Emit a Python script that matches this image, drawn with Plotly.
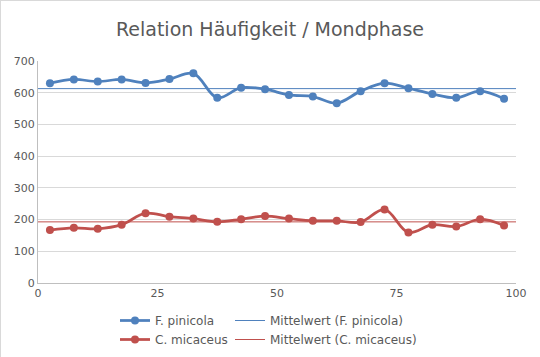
import plotly.graph_objects as go

x_vals = [2.5, 7.5, 12.5, 17.5, 22.5, 27.5, 32.5, 37.5, 42.5, 47.5,
          52.5, 57.5, 62.5, 67.5, 72.5, 77.5, 82.5, 87.5, 92.5, 97.5]
pinicola = [630, 642, 635, 642, 631, 643, 661, 584, 616, 611,
            593, 588, 567, 605, 630, 614, 596, 584, 605, 581]
micaceus = [167, 174, 171, 184, 220, 209, 203, 193, 201, 211,
            203, 196, 196, 192, 232, 159, 184, 178, 201, 181]
mean_range = [0, 100]
mean_pinicola = sum(pinicola) / len(pinicola)
mean_micaceus = sum(micaceus) / len(micaceus)

blue = "#4F81BD"
red = "#C0504D"
grey_text = "#595959"
grid = "#D9D9D9"

W, H = 540, 357
ml, mr, mt, mb = 38, 24, 61, 74
pw, ph = W - ml - mr, H - mt - mb

fig = go.Figure()
fig.add_trace(go.Scatter(x=x_vals, y=pinicola, mode="lines+markers", name="F. pinicola",
                         line=dict(color=blue, width=2.75, shape="spline", smoothing=1),
                         marker=dict(color=blue, size=8), legend="legend"))
fig.add_trace(go.Scatter(x=x_vals, y=micaceus, mode="lines+markers", name="C. micaceus",
                         line=dict(color=red, width=2.75, shape="spline", smoothing=1),
                         marker=dict(color=red, size=8), legend="legend"))
fig.add_trace(go.Scatter(x=mean_range, y=[mean_pinicola] * 2, mode="lines",
                         name="Mittelwert (F. pinicola)",
                         line=dict(color=blue, width=1), legend="legend2"))
fig.add_trace(go.Scatter(x=mean_range, y=[mean_micaceus] * 2, mode="lines",
                         name="Mittelwert (C. micaceus)",
                         line=dict(color=red, width=1), legend="legend2"))

legend_common = dict(orientation="v", bgcolor="rgba(0,0,0,0)",
                     font=dict(family="DejaVu Sans", size=12, color=grey_text),
                     yanchor="top", xanchor="left", tracegroupgap=0, itemwidth=30)

fig.update_layout(
    width=W, height=H,
    margin=dict(l=ml, r=mr, t=mt, b=mb, autoexpand=False),
    paper_bgcolor="white", plot_bgcolor="white",
    font=dict(family="DejaVu Sans", color=grey_text, size=11),
    title=dict(text="Relation Häufigkeit / Mondphase", x=0.5, xanchor="center",
               y=1 - 29 / H, yanchor="middle",
               font=dict(family="DejaVu Sans", size=19, color=grey_text)),
    xaxis=dict(range=[0, 100], tickvals=[0, 25, 50, 75, 100], showgrid=False,
               showline=True, linecolor="#BFBFBF", linewidth=1, zeroline=False,
               ticks="", tickfont=dict(size=11, color=grey_text)),
    yaxis=dict(range=[0, 700], dtick=100, showgrid=True, gridcolor=grid, gridwidth=1,
               showline=True, linecolor="#BFBFBF", linewidth=1, zeroline=False,
               ticks="", tickfont=dict(size=11, color=grey_text)),
    legend=dict(x=(115 - ml) / pw, y=-(306 - mt - ph) / ph, **legend_common),
    legend2=dict(x=(230 - ml) / pw, y=-(306 - mt - ph) / ph, **legend_common),
    showlegend=True,
)

fig.add_shape(type="line", xref="paper", yref="paper",
              x0=-ml / pw, x1=(W - ml) / pw, y0=1 + (mt - 0.5) / ph, y1=1 + (mt - 0.5) / ph,
              line=dict(color=grid, width=1))
fig.add_shape(type="line", xref="paper", yref="paper",
              x0=-(ml - 0.5) / pw, x1=-(ml - 0.5) / pw, y0=-mb / ph, y1=1 + mt / ph,
              line=dict(color=grid, width=1))

fig.write_html("out.html", config={"displayModeBar": False},
               post_script="document.body.style.margin='0';document.body.style.overflow='hidden';")
